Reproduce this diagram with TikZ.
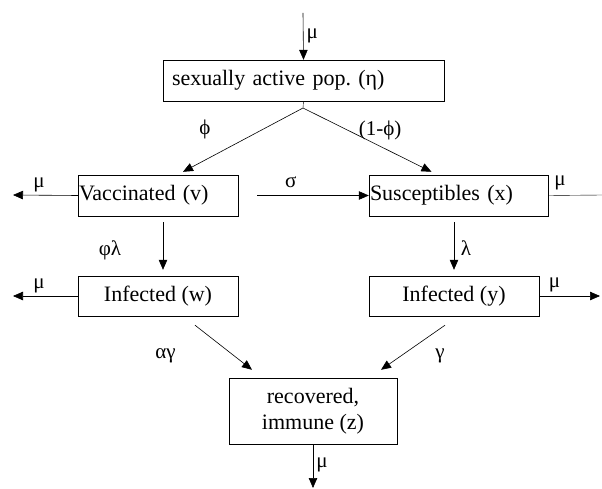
\documentclass[tikz,border=0pt]{standalone}
\usepackage{fontspec}
\setmainfont{Liberation Serif}
\frenchspacing
\usetikzlibrary{arrows.meta, positioning, calc}
\tikzset{
  box/.style={draw, rectangle, inner sep=0pt, font=\fontsize{22}{26}\selectfont},
  flow/.style={-{Triangle[length=10pt,width=8.5pt]}, line width=0.6pt},
  lbl/.style={font=\fontsize{21}{24}\selectfont, inner sep=0pt}
}

\begin{document}
\begin{tikzpicture}[x=1pt, y={(0,-1pt)}]
\useasboundingbox (0,0) rectangle (602,489);

% compartments
\node[box, minimum width=281, minimum height=41, text width=263, align=left] (pop) at (303.5,80.5) {sexually active pop. (η)};
\node[box, minimum width=160, minimum height=41, text width=158, align=left] (vacc) at (158,195.5) {Vaccinated (v)};
\node[box, minimum width=179, minimum height=41, text width=177, align=left] (susc) at (458.5,195.5) {Susceptibles (x)};
\node[box, minimum width=160, minimum height=40] (infw) at (158,296) {Infected (w)};
\node[box, minimum width=170, minimum height=40] (infy) at (454,296) {Infected (y)};
\node[box, minimum width=168, minimum height=66, align=center] (recov) at (313,411) {recovered,\\immune (z)};

% free ends
\coordinate (birth) at (303,13);
\coordinate (split) at (303,108);
\coordinate (vout) at (13,195);
\coordinate (xout) at (602,195);
\coordinate (wout) at (13,296);
\coordinate (yout) at (600,296);
\coordinate (zout) at (313,488);

% recruitment
\draw[flow] (birth) -- (pop.north) node[lbl, pos=0.5, xshift=9pt] {μ};
\draw (pop.south) -- (split);
\draw[flow] (split) -- ($(vacc.north)+(25,-3)$) node[lbl, pos=0.25, xshift=-68pt, yshift=-6pt] {ϕ};
\draw[flow] (split) -- ($(susc.north)+(-27,-3)$) node[lbl, pos=0.6, yshift=16pt] {(1-ϕ)};

% transitions
\draw[flow] ($(vacc.east)+(19,0)$) -- (susc.west) node[lbl, pos=0.3, yshift=13pt] {σ};
\draw[flow] ($(vacc.south)+(5,6)$) -- ($(infw.north)+(5,-6)$) node[lbl, pos=0.6, xshift=-53pt] {φλ};
\draw[flow] ($(susc.south)+(-4.5,6)$) -- ($(infy.north)+(0,-6)$) node[lbl, pos=0.55, xshift=12pt] {λ};
\draw[flow] ($(infw.south)+(37,9)$) -- ($(recov.north)+(-61,-8)$) node[lbl, pos=0.5, xshift=-58pt, yshift=-8pt] {αγ};
\draw[flow] ($(infy.south)+(-9,9)$) -- ($(recov.north)+(68,-8)$) node[lbl, pos=0.5, xshift=27pt, yshift=-8pt] {γ};

% deaths
\draw[flow] (vacc.west) -- (vout) node[lbl, pos=0.6, yshift=10pt] {μ};
\draw (susc.east) -- (xout) node[lbl, pos=0.22, yshift=12pt] {μ};
\draw[flow] (infw.west) -- (wout) node[lbl, pos=0.6, yshift=10pt] {μ};
\draw[flow] (infy.east) -- (yout) node[lbl, pos=0.25, yshift=11pt] {μ};
\draw[flow] (recov.south) -- (zout) node[lbl, pos=0.48, xshift=9pt] {μ};
\end{tikzpicture}
\end{document}
